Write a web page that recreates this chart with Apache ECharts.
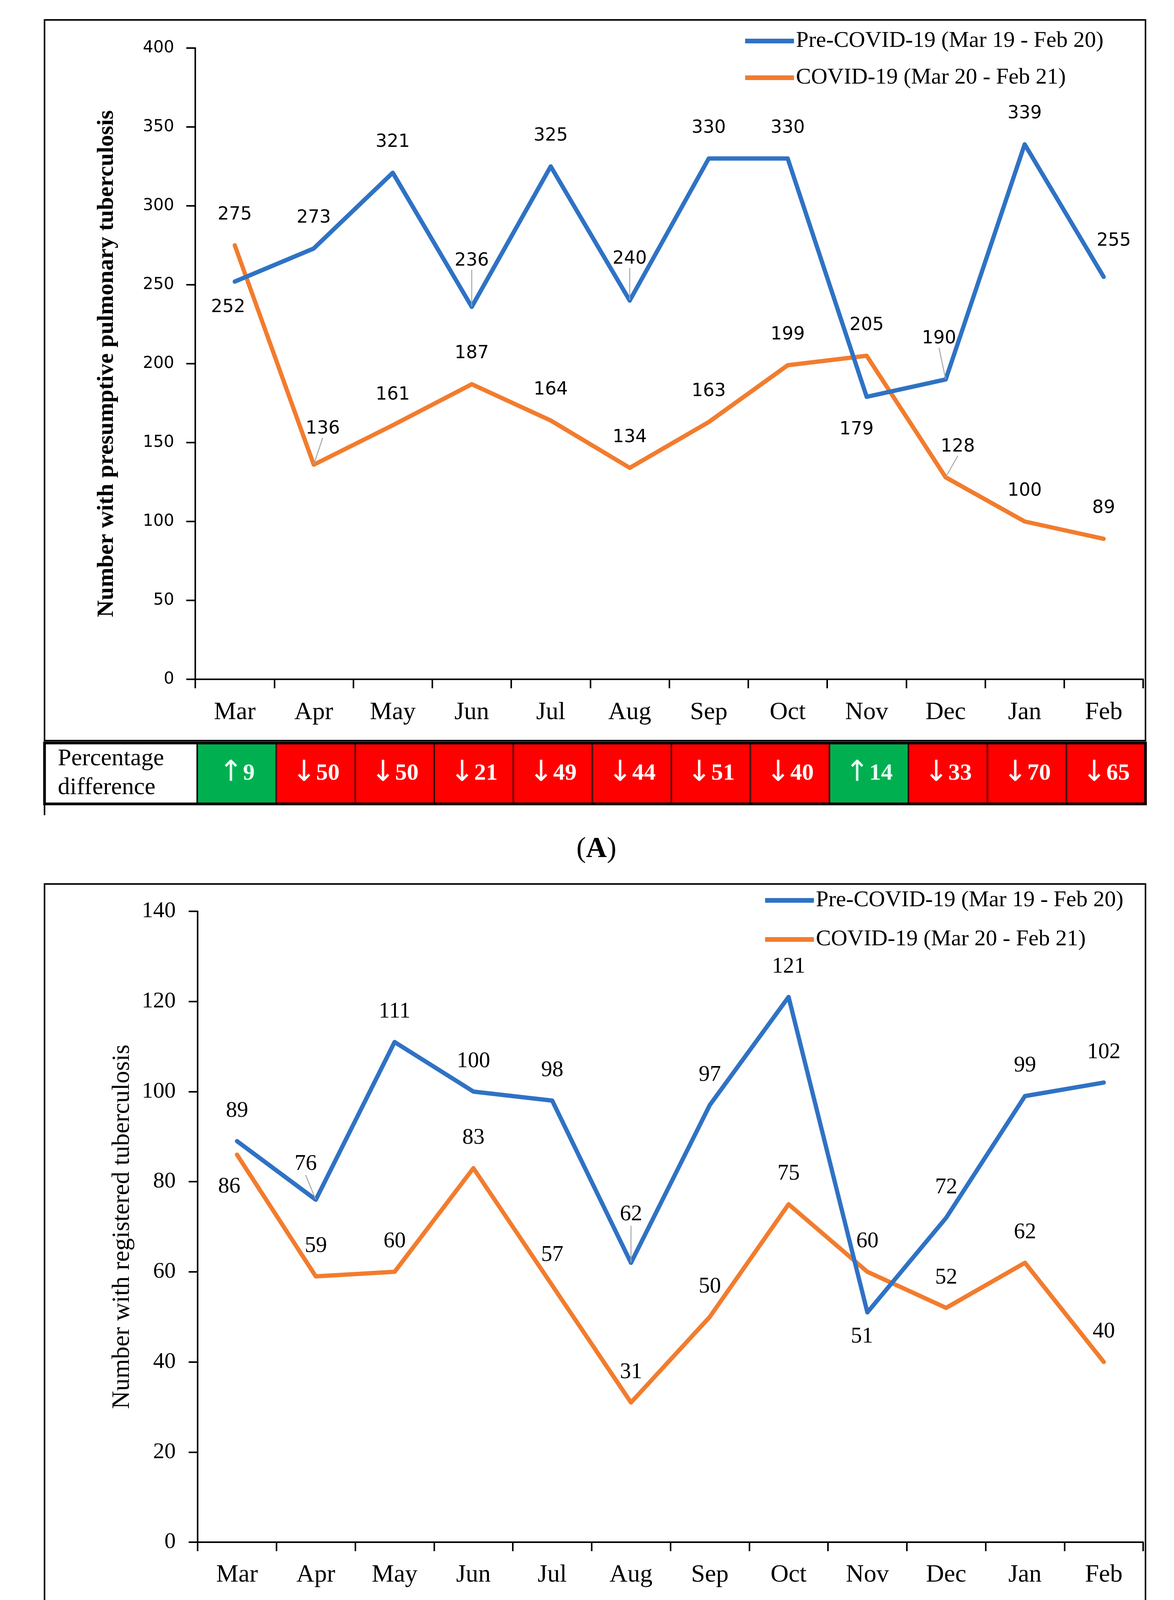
<!DOCTYPE html>
<html>
<head>
<meta charset="utf-8">
<script src="https://cdn.jsdelivr.net/npm/echarts@6/dist/echarts.min.js"></script>
<style>
  html, body { margin: 0; padding: 0; background: #fff; }
  #chart { width: 3006px; height: 4451px; }
</style>
</head>
<body>
<div id="chart"></div>
<script>
// ---------------- data ----------------
const months = ['Mar', 'Apr', 'May', 'Jun', 'Jul', 'Aug', 'Sep', 'Oct', 'Nov', 'Dec', 'Jan', 'Feb'];
const seriesNamePre = 'Pre-COVID-19 (Mar 19 - Feb 20)';
const seriesNameCovid = 'COVID-19 (Mar 20 - Feb 21)';

const presumptivePre   = [252, 273, 321, 236, 325, 240, 330, 330, 179, 190, 339, 255];
const presumptiveCovid = [275, 136, 161, 187, 164, 134, 163, 199, 205, 128, 100, 89];
const presumptivePct   = [9, -50, -50, -21, -49, -44, -51, -40, 14, -33, -70, -65];

const registeredPre    = [89, 76, 111, 100, 98, 62, 97, 121, 51, 72, 99, 102];
const registeredCovid  = [86, 59, 60, 83, 57, 31, 50, 75, 60, 52, 62, 40];
const registeredPct    = [-43, -22, -46, -17, -42, -50, -48, -38, 18, -28, -37, -61];

const titleA = 'Number with presumptive pulmonary tuberculosis';
const titleB = 'Number with registered tuberculosis';
const tableLabel = 'Percentage\ndifference';

// ---------------- styling (label nudges: [dx, dy, leaderLine]) ----------------
const shiftAPre   = {0: [-17, 144], 3: [0, -40, true], 5: [0, -28, true], 8: [-26, 162], 9: [-17, -26, true], 11: [26, -14]};
const shiftACovid = {1: [23, -14, true], 9: [31, 0, true]};
const shiftBPre   = {1: [-26, -14, true], 5: [0, -46, true], 8: [-14, 140]};
const shiftBCovid = {0: [-20, 160]};

const BLUE = '#2F72C4';
const ORANGE = '#F27C2E';
const SERIF = 'Liberation Serif';
const SANS = 'DejaVu Sans';

function lineSeries(name, values, color, axisIdx, shifts, labelFont, labelSize, labelDist) {
  return {
    name: name,
    type: 'line',
    xAxisIndex: axisIdx,
    yAxisIndex: axisIdx,
    data: values.map((v, i) => {
      const s = shifts[i];
      return {
        value: v,
        labelLine: {show: !!(s && s[2]), lineStyle: {color: '#A6A6A6', width: 2.5}}
      };
    }),
    symbol: 'circle',
    symbolSize: 2,
    itemStyle: {color: color},
    lineStyle: {color: color, width: 11, join: 'round', cap: 'round'},
    label: {
      show: true, position: 'top', distance: labelDist,
      fontFamily: labelFont, fontSize: labelSize, color: '#000'
    },
    labelLine: {show: false, lineStyle: {color: '#A6A6A6', width: 2.5}},
    labelLayout: function (p) {
      const s = shifts[p.dataIndex];
      return s ? {dx: s[0], dy: s[1]} : {};
    },
    clip: false,
    z: color === BLUE ? 4 : 3,
    silent: true
  };
}

function pctSeries(values, axisIdx) {
  return {
    type: 'bar',
    xAxisIndex: axisIdx,
    yAxisIndex: axisIdx,
    data: values.map((v, i) => ({
      value: [months[i], 1, v],
      itemStyle: {color: v > 0 ? '#00B050' : '#FF0000'},
      label: {color: v > 0 ? '#E4FFF4' : '#FFFFFF'}
    })),
    encode: {x: 0, y: 1},
    barWidth: '100%',
    itemStyle: {borderColor: '#3A0000', borderWidth: 2},
    label: {
      show: true, position: 'inside',
      formatter: p => '{a|' + (p.value[2] > 0 ? '\u2191' : '\u2193') + '}' + Math.abs(p.value[2]),
      color: '#FFFFFF',
      fontFamily: SERIF, fontWeight: 'bold', fontSize: 60,
      rich: {a: {fontFamily: SANS, fontWeight: 'normal', fontSize: 74}}
    },
    silent: true
  };
}

const axisLineStyle = {color: '#000', width: 4};

function catAxis(gridIndex, margin) {
  return {
    gridIndex: gridIndex, type: 'category', data: months, boundaryGap: true,
    axisLine: {show: true, lineStyle: axisLineStyle},
    axisTick: {show: true, length: 23, lineStyle: axisLineStyle},
    axisLabel: {fontFamily: SERIF, fontSize: 64, color: '#000', margin: margin},
    splitLine: {show: false}
  };
}

function valAxis(gridIndex, max, interval, name, nameGap, nameWeight, labelFont, labelSize, margin) {
  return {
    gridIndex: gridIndex, type: 'value', min: 0, max: max, interval: interval,
    axisLine: {show: true, lineStyle: axisLineStyle},
    axisTick: {show: true, length: 23, lineStyle: axisLineStyle},
    axisLabel: {fontFamily: labelFont, fontSize: labelSize, color: '#000', margin: margin},
    splitLine: {show: false},
    name: name, nameLocation: 'middle', nameGap: nameGap,
    nameTextStyle: {fontFamily: SERIF, fontSize: nameWeight === 'bold' ? 60 : 64, fontWeight: nameWeight, color: '#000'}
  };
}

function hiddenCat(gridIndex) {
  return {gridIndex: gridIndex, type: 'category', data: months, show: false, boundaryGap: true};
}
function hiddenVal(gridIndex) {
  return {gridIndex: gridIndex, type: 'value', min: 0, max: 1, show: false};
}

function panelGraphics(box, table, labelCellRight, labelCenter) {
  return [
    {type: 'rect', z: 100, shape: {x: box[0], y: box[1], width: box[2] - box[0], height: box[3] - box[1]},
     style: {fill: 'rgba(0,0,0,0)', stroke: '#000', lineWidth: 4}},
    {type: 'rect', z: 90, shape: {x: table[0], y: table[1], width: labelCellRight - table[0], height: table[3] - table[1]},
     style: {fill: '#fff'}},
    {type: 'rect', z: 101, shape: {x: table[0], y: table[1], width: table[2] - table[0], height: table[3] - table[1]},
     style: {fill: 'rgba(0,0,0,0)', stroke: '#000', lineWidth: 7}},
    {type: 'line', z: 101, shape: {x1: labelCellRight, y1: table[1], x2: labelCellRight, y2: table[3]},
     style: {stroke: '#000', lineWidth: 4}},
    {type: 'text', z: 102, x: table[0] + 34, y: (table[1] + table[3]) / 2,
     style: {text: tableLabel, fontFamily: SERIF, fontSize: 62, lineHeight: 74, fill: '#000',
             textAlign: 'left', textVerticalAlign: 'middle'}},
    {type: 'text', z: 102, x: labelCenter[0], y: labelCenter[1],
     style: {text: labelCenter[2], fontFamily: SERIF, fontSize: 74, fill: '#000',
             textAlign: 'center', textVerticalAlign: 'middle',
             rich: {b: {fontFamily: SERIF, fontSize: 74, fontWeight: 'bold', fill: '#000'}}}}
  ];
}

const chart = echarts.init(document.getElementById('chart'), null, {renderer: 'canvas', width: 3006, height: 4451});

const legendBase = {
  orient: 'vertical', itemWidth: 125, itemHeight: 12, padding: 0, icon: 'rect',
  textStyle: {fontFamily: SERIF, fontSize: 58, color: '#000'},
  data: [seriesNamePre, seriesNameCovid], selectedMode: false
};

const option = {
  backgroundColor: '#fff',
  animation: false,
  legend: [
    Object.assign({}, legendBase, {left: 1908, top: 76, itemGap: 36}),
    Object.assign({}, legendBase, {left: 1959, top: 2276, itemGap: 42})
  ],
  grid: [
    {left: 500, top: 123, width: 2427, height: 1616},
    {left: 506, top: 2333, width: 2421, height: 1615},
    {left: 505, top: 1902, width: 2428, height: 156},
    {left: 511, top: 4114, width: 2422, height: 159}
  ],
  xAxis: [catAxis(0, 53), catAxis(1, 52), hiddenCat(2), hiddenCat(3)],
  yAxis: [
    valAxis(0, 400, 50, titleA, 197, 'bold', SANS, 42, 54),
    valAxis(1, 140, 20, titleB, 161, 'normal', SERIF, 58, 56),
    hiddenVal(2), hiddenVal(3)
  ],
  series: [
    lineSeries(seriesNamePre, presumptivePre, BLUE, 0, shiftAPre, SANS, 46, 54),
    lineSeries(seriesNameCovid, presumptiveCovid, ORANGE, 0, shiftACovid, SANS, 46, 54),
    lineSeries(seriesNamePre, registeredPre, BLUE, 1, shiftBPre, SERIF, 57, 48),
    lineSeries(seriesNameCovid, registeredCovid, ORANGE, 1, shiftBCovid, SERIF, 57, 48),
    pctSeries(presumptivePct, 2),
    pctSeries(registeredPct, 3)
  ],
  graphic: [].concat(
    panelGraphics([114, 51, 2933, 1896], [114, 1902, 2933, 2058], 505, [1527, 2175, '({b|A})']),
    panelGraphics([114, 2263, 2933, 4108], [114, 4114, 2933, 4273], 511, [1527, 4372, '({b|B})']),
    [{type: 'line', z: 101, shape: {x1: 114, y1: 2058, x2: 114, y2: 2087}, style: {stroke: '#000', lineWidth: 4}}]
  )
};

chart.setOption(option);
</script>
</body>
</html>
